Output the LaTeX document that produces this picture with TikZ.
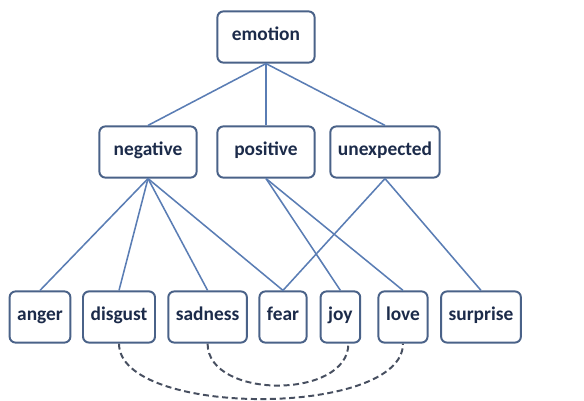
\documentclass[tikz,border=0pt]{standalone}
\usepackage{fontspec}
\setmainfont{Carlito}
\usetikzlibrary{calc}

\definecolor{boxblue}{HTML}{4A6288}
\definecolor{lineblue}{HTML}{5A7DB4}
\definecolor{textnavy}{HTML}{1C2B4A}
\definecolor{dashgray}{HTML}{474F60}

\begin{document}
\begin{tikzpicture}[
    word/.style={draw=boxblue,line width=1.4pt,rounded corners=0.15cm,fill=white,
      text=textnavy,font=\fontsize{13.8}{16}\selectfont\bfseries,
      inner xsep=0.19cm,minimum height=1.28cm,text height=1.6ex,text depth=0.45ex},
    group/.style={word,minimum width=2.43cm},
    link/.style={draw=lineblue,line width=1.1pt},
    pair/.style={draw=dashgray,line width=1.4pt,dash pattern=on 0.15cm off 0.09cm}]
  \useasboundingbox (0,0) rectangle (14.6,10.025);

  \node[group] (emotion) at (6.65,9.1) {emotion};

  \node[group] (negative) at (3.7,6.225) {negative};
  \node[group] (positive) at (6.65,6.225) {positive};
  \node[group] (unexpected) at (9.625,6.225) {unexpected};

  \node[word] (anger) at (1.0,2.1) {anger};
  \node[word] (disgust) at (2.975,2.1) {disgust};
  \node[word] (sadness) at (5.19,2.1) {sadness};
  \node[word] (fear) at (7.075,2.1) {fear};
  \node[word] (joy) at (8.51,2.1) {joy};
  \node[word] (love) at (10.075,2.1) {love};
  \node[word] (surprise) at (12.025,2.1) {surprise};

  \foreach \g in {negative,positive,unexpected}
    \draw[link] (emotion.south) -- (\g.north);
  \foreach \w in {anger,disgust,sadness,fear}
    \draw[link] (negative.south) -- (\w.north);
  \foreach \w in {joy,love}
    \draw[link] (positive.south) -- (\w.north);
  \foreach \w in {fear,surprise}
    \draw[link] (unexpected.south) -- (\w.north);

  \draw[pair] (disgust.south) .. controls +(0,-1.85) and +(0,-1.85) .. (love.south);
  \draw[pair] (sadness.south) .. controls +(0,-1.4) and +(0,-1.4) .. ($(joy.south)+(0.2,0)$);
\end{tikzpicture}
\end{document}
